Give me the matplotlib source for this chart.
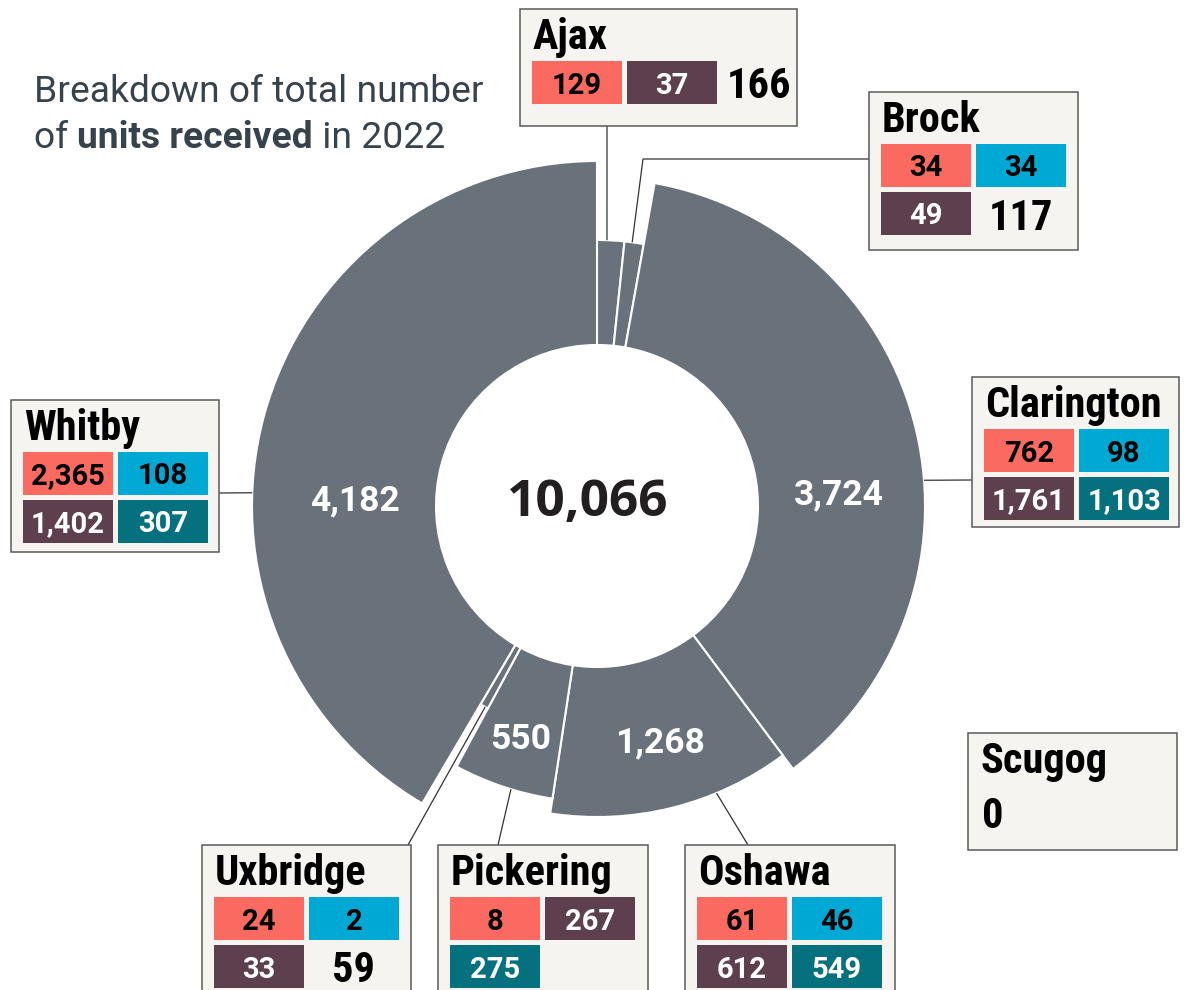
import matplotlib
matplotlib.use('Agg')
import numpy as np
import matplotlib.pyplot as plt
from matplotlib.patches import Wedge, Rectangle
from matplotlib import font_manager

# units received in 2022, by municipality and category
towns = ['Ajax', 'Brock', 'Clarington', 'Oshawa', 'Pickering', 'Scugog', 'Uxbridge', 'Whitby']
cat_salmon = [129, 34, 762, 61, 8, 0, 24, 2365]
cat_cyan = [0, 34, 98, 46, 0, 0, 2, 108]
cat_plum = [37, 49, 1761, 612, 267, 0, 33, 1402]
cat_teal = [0, 0, 1103, 549, 275, 0, 0, 307]

cats = [cat_salmon, cat_cyan, cat_plum, cat_teal]
totals = [sum(c[i] for c in cats) for i in range(len(towns))]
grand_total = sum(totals)

# colours
cell_colors = ['#fa6a61', '#00a9d3', '#5d3f4d', '#06717e']
cell_text = ['black', 'black', 'white', 'white']
slice_color = '#69727a'
box_face = '#f5f4f0'
box_edge = '#5a5a5a'
title_color = '#36434c'

names = {f.name for f in font_manager.fontManager.ttflist}
cond = next((n for n in ['Roboto Condensed', 'Liberation Sans Narrow', 'DejaVu Sans'] if n in names), 'DejaVu Sans')

# layout (pixel coords)
cx, cy = 597, 506
r_in = 161
outer_r = [266, 266, 328, 311, 296, 0, 230, 345]
# left, top, width, height, columns
boxes = [(520, 9, 277, 117, 3),
         (869, 92, 209, 158, 2),
         (972, 377, 207, 150, 2),
         (685, 845, 210, 152, 2),
         (438, 845, 210, 152, 2),
         (968, 733, 209, 117, 2),
         (202, 845, 209, 152, 2),
         (11, 400, 208, 152, 2)]
leader_angle = [2.15, 7.6, 85.5, 157.4, 196.9, None, 209.1, 272.2]
leader_to = [[(607, 126)], [(643, 159), (869, 159)], [(972, 480)], [(748, 845)],
             [(498, 845)], None, [(408, 845)], [(219, 493)]]
label_angle = [None, None, 86.5, 165, 198.3, None, None, 272]
label_r = 242

fig = plt.figure(figsize=(11.88, 9.9), dpi=100)
ax = fig.add_axes([0, 0, 1, 1])
ax.set_xlim(0, 1188)
ax.set_ylim(990, 0)
ax.axis('off')


def polar(theta, r):
    t = np.radians(theta)
    return cx + r * np.sin(t), cy - r * np.cos(t)


# donut slices, clockwise from 12 o'clock
start = 0.0
for i, town in enumerate(towns):
    span = 360.0 * totals[i] / grand_total
    if totals[i] > 0:
        w = Wedge((cx, cy), outer_r[i], start - 90, start + span - 90,
                  width=outer_r[i] - r_in, facecolor=slice_color,
                  edgecolor='white', linewidth=1.5)
        ax.add_patch(w)
    if label_angle[i] is not None:
        lx, ly = polar(label_angle[i], label_r)
        ax.text(lx, ly, f'{totals[i]:,}', color='white', fontsize=25.5,
                family='Roboto', weight='bold', ha='center', va='center_baseline')
    start += span

ax.text(588, 497, f'{grand_total:,}', fontsize=37, family='Open Sans', weight='bold',
        color='#231f20', ha='center', va='center_baseline')

# leader lines
for i in range(len(towns)):
    if leader_to[i] is None:
        continue
    pts = [polar(leader_angle[i], outer_r[i])] + leader_to[i]
    xs, ys = zip(*pts)
    ax.plot(xs, ys, color='#333333', lw=0.9, solid_capstyle='butt')

# info boxes
cw, ch, gap = 90, 43, 5
for i, town in enumerate(towns):
    L, T, W, H, ncol = boxes[i]
    ax.add_patch(Rectangle((L, T), W, H, facecolor=box_face, edgecolor=box_edge, lw=1.1, zorder=3))
    ax.text(L + 13, T + 40, town, fontsize=30.5, family=cond, weight='bold',
            color='black', va='baseline', ha='left', zorder=4)
    if totals[i] == 0:
        ax.text(L + 14, T + 95, '0', fontsize=30.5, family=cond, weight='bold',
                color='black', va='baseline', ha='left', zorder=4)
        continue
    slot = 0
    for k, c in enumerate(cats):
        if c[i] == 0:
            continue
        col, row = slot % ncol, slot // ncol
        x0 = L + 12 + col * (cw + gap)
        y0 = T + 52 + row * (ch + gap)
        ax.add_patch(Rectangle((x0, y0), cw, ch, facecolor=cell_colors[k], edgecolor='none', zorder=4))
        ax.text(x0 + cw / 2, y0 + ch / 2, f'{c[i]:,}', fontsize=21, family='Roboto',
                weight='bold', color=cell_text[k], ha='center', va='center_baseline', zorder=5)
        slot += 1
    if label_angle[i] is None:
        col, row = slot % ncol, slot // ncol
        x0 = L + 12 + col * (cw + gap)
        y0 = T + 52 + row * (ch + gap)
        if ncol == 3:
            tx, ha = x0 + 5, 'left'
        else:
            tx, ha = x0 + cw / 2, 'center'
        ax.text(tx, y0 + ch / 2, f'{totals[i]:,}', fontsize=30.5, family=cond,
                weight='bold', color='black', ha=ha, va='center_baseline', zorder=5)

# heading
t1 = ax.text(34, 102, 'Breakdown of total number', fontsize=26.8, family='Roboto',
             color=title_color, va='baseline', ha='left')
t2 = ax.text(34, 148, 'of ', fontsize=26.8, family='Roboto', color=title_color,
             va='baseline', ha='left')
t3 = ax.annotate('units received', xy=(1, 0), xycoords=t2, fontsize=26.8, family='Roboto',
                 weight='bold', color=title_color, va='bottom', ha='left')
ax.annotate(' in 2022', xy=(1, 0), xycoords=t3, fontsize=26.8, family='Roboto',
            color=title_color, va='bottom', ha='left')

fig.savefig('out.png', dpi=100)
